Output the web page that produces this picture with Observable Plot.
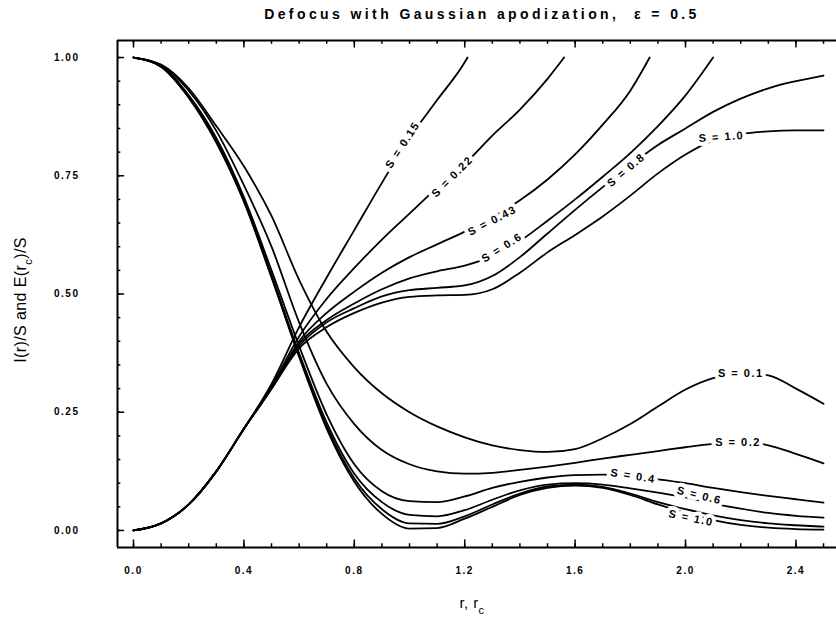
<!DOCTYPE html>
<html><head><meta charset="utf-8">
<script src="https://cdn.jsdelivr.net/npm/d3@7"></script>
<script src="https://cdn.jsdelivr.net/npm/@observablehq/plot@0.6"></script>
<style>
body{margin:0;background:#fff;}
svg.fig text{letter-spacing:1.5px;}
svg.fig .ttl{letter-spacing:3.4px;}
svg.fig .axt{letter-spacing:0.4px;}
</style></head><body><div id="chart"></div>
<script>
// radius grid (r, r_c)
const rGrid = [0,0.1,0.2,0.3,0.4,0.5,0.6,0.7,0.8,0.9,1.0,1.1,1.2,1.3,1.4,1.5,1.6,1.7,1.8,1.9,2.0,2.1,2.2,2.3,2.4,2.5];

// Normalized intensity I(r)/S
const I_S01 = [1.00,0.985,0.935,0.855,0.77,0.665,0.53,0.42,0.345,0.29,0.25,0.22,0.197,0.18,0.17,0.166,0.172,0.195,0.225,0.262,0.298,0.322,0.333,0.328,0.30,0.268];
const I_S02 = [1.00,0.984,0.93,0.845,0.73,0.60,0.44,0.31,0.225,0.17,0.14,0.125,0.12,0.122,0.128,0.135,0.143,0.152,0.160,0.168,0.176,0.183,0.187,0.18,0.162,0.142];
const I_S04 = [1.00,0.982,0.92,0.83,0.705,0.55,0.39,0.245,0.14,0.083,0.062,0.06,0.072,0.09,0.103,0.112,0.117,0.118,0.115,0.108,0.10,0.09,0.081,0.073,0.066,0.059];
const I_S06 = [1.00,0.982,0.918,0.825,0.70,0.54,0.375,0.228,0.12,0.06,0.033,0.03,0.043,0.065,0.085,0.097,0.10,0.097,0.089,0.08,0.07,0.057,0.046,0.037,0.031,0.027];
const I_S08 = [1.00,0.981,0.916,0.822,0.697,0.537,0.37,0.22,0.11,0.045,0.015,0.014,0.03,0.055,0.078,0.093,0.097,0.092,0.078,0.06,0.045,0.032,0.022,0.015,0.011,0.008];
const I_S10 = [1.00,0.98,0.915,0.82,0.695,0.535,0.367,0.215,0.103,0.035,0.004,0.005,0.025,0.05,0.075,0.09,0.095,0.09,0.075,0.055,0.037,0.022,0.012,0.006,0.003,0.002];

// Normalized encircled energy E(r_c)/S (values on rGrid until the curve reaches 1.0 at its end radius)
const E_S015 = [0,0.015,0.055,0.125,0.215,0.31,0.43,0.535,0.635,0.735,0.83,0.91,0.99];
const E_S022 = [0,0.015,0.055,0.125,0.215,0.305,0.41,0.49,0.555,0.615,0.67,0.725,0.775,0.835,0.89,0.955];
const E_S043 = [0,0.015,0.055,0.125,0.215,0.30,0.40,0.46,0.505,0.545,0.578,0.605,0.632,0.662,0.698,0.742,0.795,0.858,0.93];
const E_S06  = [0,0.015,0.055,0.125,0.215,0.30,0.395,0.445,0.48,0.51,0.533,0.548,0.56,0.58,0.612,0.655,0.70,0.748,0.798,0.855,0.92];
const E_S08  = [0,0.015,0.055,0.125,0.215,0.30,0.39,0.44,0.47,0.495,0.508,0.513,0.518,0.538,0.578,0.628,0.678,0.726,0.772,0.815,0.85,0.885,0.913,0.935,0.95,0.962];
const E_S10  = [0,0.015,0.055,0.125,0.215,0.30,0.385,0.43,0.46,0.482,0.494,0.497,0.498,0.51,0.545,0.588,0.625,0.664,0.708,0.755,0.795,0.825,0.838,0.844,0.846,0.846];
const E_endR = [1.21, 1.56, 1.87, 2.10, null, null];
const E_endV = 1.0;

// curve labels
const labelText = ["S = 0.15","S = 0.22","S = 0.43","S = 0.6","S = 0.8","S = 1.0","S = 0.1","S = 0.2","S = 0.4","S = 0.6","S = 1.0"];
const labelR    = [0.975, 1.155, 1.30, 1.335, 1.785, 2.13, 2.20, 2.19, 1.81, 2.05, 2.02];
const labelV    = [0.815, 0.748, 0.655, 0.598, 0.762, 0.832, 0.333, 0.186, 0.115, 0.074, 0.026];
const labelRot  = [-57, -45, -27, -32, -40, -4, 0, 0, 9, 14, 12];

// axes
const xTicks = [0,0.4,0.8,1.2,1.6,2.0,2.4];
const yTicks = [0,0.25,0.5,0.75,1.0];
const xMinor = d3.range(0, 2.55, 0.1);
const yMinor = d3.range(0, 1.001, 0.05);
const xDomain = [-0.058, 2.547];
const yDomain = [-0.036, 1.036];

const title = "Defocus with Gaussian apodization,  \u03B5 = 0.5";

// build tables
const intensity = [I_S01, I_S02, I_S04, I_S06, I_S08, I_S10];
const energy = [E_S015, E_S022, E_S043, E_S06, E_S08, E_S10];
const lines = [];
intensity.forEach((arr, k) => arr.forEach((v, i) => lines.push({id: "I" + k, r: rGrid[i], v})));
energy.forEach((arr, k) => {
  arr.forEach((v, i) => lines.push({id: "E" + k, r: rGrid[i], v}));
  if (E_endR[k] != null) lines.push({id: "E" + k, r: E_endR[k], v: E_endV});
});
const labels = labelText.map((t, i) => ({t, r: labelR[i], v: labelV[i], rot: labelRot[i]}));

const fig = Plot.plot({
  width: 836, height: 626,
  marginLeft: 117, marginRight: 0, marginTop: 40, marginBottom: 79,
  className: "fig",
  style: {fontFamily: "'Liberation Sans', Arial, sans-serif", fontWeight: "bold", fontSize: "10px", color: "#000", background: "#fff"},
  x: {domain: xDomain},
  y: {domain: yDomain},
  marks: [
    Plot.ruleY([yDomain[0], yDomain[1]], {stroke: "#000", strokeWidth: 2}),
    Plot.ruleX([xDomain[0]], {stroke: "#000", strokeWidth: 2}),
    Plot.ruleX(xMinor, {x: d => d, y1: yDomain[0], y2: yDomain[0] + 0.008, stroke: "#000", strokeWidth: 1.5}),
    Plot.ruleX(xTicks, {x: d => d, y1: yDomain[0], y2: yDomain[0] + 0.016, stroke: "#000", strokeWidth: 1.5}),
    Plot.ruleX(xMinor, {x: d => d, y1: yDomain[1], y2: yDomain[1] - 0.008, stroke: "#000", strokeWidth: 1.5}),
    Plot.ruleX(xTicks, {x: d => d, y1: yDomain[1], y2: yDomain[1] - 0.016, stroke: "#000", strokeWidth: 1.5}),
    Plot.ruleY(yMinor, {y: d => d, x1: xDomain[0], x2: xDomain[0] + 0.012, stroke: "#000", strokeWidth: 1.5}),
    Plot.ruleY(yTicks, {y: d => d, x1: xDomain[0], x2: xDomain[0] + 0.026, stroke: "#000", strokeWidth: 1.5}),
    Plot.axisX(xTicks, {tickSize: 0, tickPadding: 19, tickFormat: d3.format(".1f"), label: null}),
    Plot.axisY(yTicks, {tickSize: 0, tickPadding: 38, tickFormat: d3.format(".2f"), label: null}),
    Plot.line(lines, {x: "r", y: "v", z: "id", stroke: "#000", strokeWidth: 1.8, curve: "monotone-x"}),
    Plot.text(labels, {x: "r", y: "v", text: "t", rotate: "rot", fill: "#000", stroke: "#fff", strokeWidth: 8, paintOrder: "stroke", fontSize: 11, fontWeight: "bold"})
  ]
});
document.getElementById("chart").appendChild(fig);

const svg = d3.select(fig);
svg.append("text").attr("class", "ttl").attr("x", 482).attr("y", 19).attr("text-anchor", "middle")
  .attr("font-size", 14).attr("font-weight", "bold").attr("fill", "#000").text(title);
const yl = svg.append("text").attr("class", "axt").attr("transform", "translate(26,300) rotate(-90)")
  .attr("text-anchor", "middle").attr("font-size", 16).attr("font-weight", "normal").attr("fill", "#000");
yl.append("tspan").text("I(r)/S and E(r");
yl.append("tspan").attr("baseline-shift", "sub").attr("font-size", 11).text("c");
yl.append("tspan").text(")/S");
const xl = svg.append("text").attr("class", "axt").attr("x", 472).attr("y", 608)
  .attr("text-anchor", "middle").attr("font-size", 15).attr("font-weight", "normal").attr("fill", "#000");
xl.append("tspan").text("r, r");
xl.append("tspan").attr("baseline-shift", "sub").attr("font-size", 11).text("c");
</script>
</body></html>
